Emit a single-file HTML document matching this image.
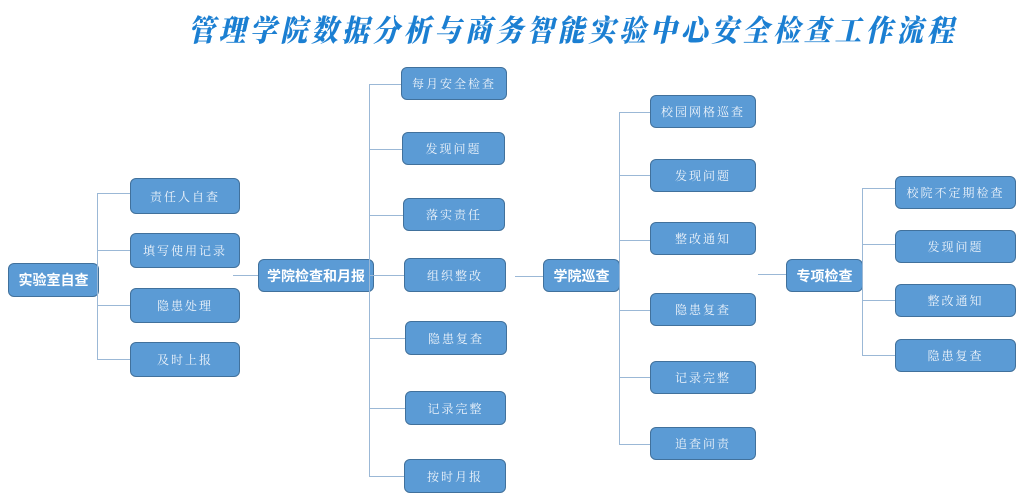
<!DOCTYPE html>
<html><head><meta charset="utf-8"><style>
body{margin:0;width:1024px;height:501px;background:#fff;position:relative;overflow:hidden;font-family:"Liberation Sans","Noto Sans CJK SC",sans-serif}
.t{position:absolute;left:188px;top:6px;font-family:"Noto Serif CJK SC","Noto Sans CJK SC",serif;font-weight:900;font-style:italic;font-size:30px;letter-spacing:4.6px;color:#1b7fd2;white-space:nowrap;transform:scaleX(0.89);transform-origin:left top}
.b{position:absolute;box-sizing:border-box;background:#5b9bd5;border:1.5px solid #41719c;border-radius:6px;color:#eef4fb;font-size:12px;letter-spacing:2px;display:flex;align-items:center;justify-content:center;font-family:"Noto Serif CJK SC","Noto Sans CJK SC",serif}
.r{font-weight:bold;font-size:14px;letter-spacing:0;color:#fff;font-family:"Noto Sans CJK SC",sans-serif}
.h,.v{position:absolute;background:#9bb8d6}
.h{height:1px}.v{width:1px}
</style></head><body>
<div class="t">管理学院数据分析与商务智能实验中心安全检查工作流程</div>

<div class="b r" style="left:8px;top:263px;width:91px;height:34px">实验室自查</div>
<div class="v" style="left:97px;top:193px;height:167px"></div>
<div class="h" style="left:97px;top:193px;width:33px"></div>
<div class="h" style="left:97px;top:250px;width:33px"></div>
<div class="h" style="left:97px;top:305px;width:33px"></div>
<div class="h" style="left:97px;top:359px;width:33px"></div>
<div class="b" style="left:130px;top:178px;width:110px;height:36px">责任人自查</div>
<div class="b" style="left:130px;top:233px;width:110px;height:35px">填写使用记录</div>
<div class="b" style="left:130px;top:288px;width:110px;height:35px">隐患处理</div>
<div class="b" style="left:130px;top:342px;width:110px;height:35px">及时上报</div>

<div class="h" style="left:233px;top:275px;width:25px"></div>
<div class="b r" style="left:258px;top:259px;width:116px;height:33px">学院检查和月报</div>
<div class="v" style="left:369px;top:84px;height:392px"></div>
<div class="h" style="left:369px;top:84px;width:33px"></div>
<div class="h" style="left:369px;top:149px;width:33px"></div>
<div class="h" style="left:369px;top:215px;width:34px"></div>
<div class="h" style="left:369px;top:275px;width:35px"></div>
<div class="h" style="left:369px;top:338px;width:36px"></div>
<div class="h" style="left:369px;top:408px;width:36px"></div>
<div class="h" style="left:369px;top:476px;width:35px"></div>
<div class="b" style="left:401px;top:67px;width:106px;height:33px">每月安全检查</div>
<div class="b" style="left:402px;top:132px;width:103px;height:33px">发现问题</div>
<div class="b" style="left:403px;top:198px;width:102px;height:33px">落实责任</div>
<div class="b" style="left:404px;top:258px;width:102px;height:34px">组织整改</div>
<div class="b" style="left:405px;top:321px;width:102px;height:34px">隐患复查</div>
<div class="b" style="left:405px;top:391px;width:101px;height:34px">记录完整</div>
<div class="b" style="left:404px;top:459px;width:102px;height:34px">按时月报</div>

<div class="h" style="left:515px;top:276px;width:28px"></div>
<div class="b r" style="left:543px;top:259px;width:77px;height:33px">学院巡查</div>
<div class="v" style="left:619px;top:112px;height:332px"></div>
<div class="h" style="left:619px;top:112px;width:31px"></div>
<div class="h" style="left:619px;top:175px;width:31px"></div>
<div class="h" style="left:619px;top:240px;width:31px"></div>
<div class="h" style="left:619px;top:310px;width:31px"></div>
<div class="h" style="left:619px;top:377px;width:31px"></div>
<div class="h" style="left:619px;top:444px;width:31px"></div>
<div class="b" style="left:650px;top:95px;width:106px;height:33px">校园网格巡查</div>
<div class="b" style="left:650px;top:159px;width:106px;height:33px">发现问题</div>
<div class="b" style="left:650px;top:222px;width:106px;height:33px">整改通知</div>
<div class="b" style="left:650px;top:293px;width:106px;height:33px">隐患复查</div>
<div class="b" style="left:650px;top:361px;width:106px;height:33px">记录完整</div>
<div class="b" style="left:650px;top:427px;width:106px;height:33px">追查问责</div>

<div class="h" style="left:758px;top:274px;width:28px"></div>
<div class="b r" style="left:786px;top:259px;width:77px;height:33px">专项检查</div>
<div class="v" style="left:862px;top:188px;height:167px"></div>
<div class="h" style="left:862px;top:188px;width:33px"></div>
<div class="h" style="left:862px;top:244px;width:33px"></div>
<div class="h" style="left:862px;top:300px;width:33px"></div>
<div class="h" style="left:862px;top:355px;width:33px"></div>
<div class="b" style="left:895px;top:176px;width:121px;height:33px">校院不定期检查</div>
<div class="b" style="left:895px;top:230px;width:121px;height:33px">发现问题</div>
<div class="b" style="left:895px;top:284px;width:121px;height:33px">整改通知</div>
<div class="b" style="left:895px;top:339px;width:121px;height:33px">隐患复查</div>
</body></html>
